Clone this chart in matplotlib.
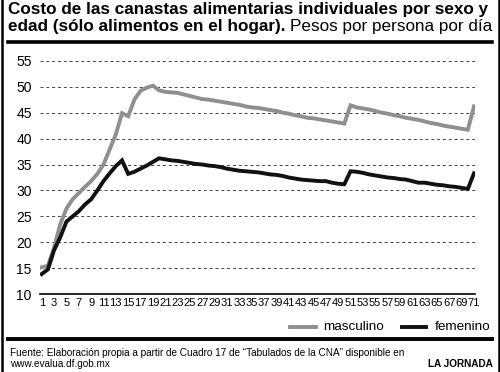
import numpy as np
import matplotlib
matplotlib.use("Agg")
import matplotlib.pyplot as plt
from matplotlib.lines import Line2D

plt.rcParams['font.family'] = ['Liberation Sans', 'DejaVu Sans']

# edades 1..71
edad = np.arange(1, 72)
masculino = [15.2, 15.5, 19.0, 23.5, 26.5, 28.3, 29.5, 30.7, 31.8, 33.2,
             35.0, 37.9, 40.8, 44.9, 44.3, 47.5, 49.2, 49.8, 50.2, 49.3,
             49.0, 48.9, 48.8, 48.5, 48.2, 47.9, 47.6, 47.5, 47.3, 47.1,
             46.9, 46.7, 46.5, 46.2, 46.0, 45.9, 45.7, 45.5, 45.3, 45.0,
             44.8, 44.5, 44.3, 44.0, 43.9, 43.7, 43.5, 43.3, 43.1, 42.9,
             46.4, 46.0, 45.8, 45.6, 45.3, 45.0, 44.8, 44.5, 44.3, 44.0,
             43.8, 43.6, 43.3, 43.0, 42.8, 42.5, 42.3, 42.1, 41.9, 41.7,
             46.2]
femenino = [13.9, 14.8, 18.5, 21.0, 24.0, 25.0, 26.0, 27.3, 28.3, 30.0,
            31.8, 33.3, 34.7, 35.8, 33.2, 33.6, 34.2, 34.8, 35.5, 36.2,
            36.0, 35.8, 35.7, 35.5, 35.3, 35.1, 35.0, 34.8, 34.7, 34.5,
            34.2, 34.0, 33.8, 33.7, 33.6, 33.5, 33.3, 33.1, 33.0, 32.8,
            32.5, 32.3, 32.1, 32.0, 31.9, 31.8, 31.8, 31.5, 31.3, 31.2,
            33.7, 33.6, 33.4, 33.1, 32.9, 32.7, 32.5, 32.4, 32.2, 32.1,
            31.8, 31.5, 31.5, 31.3, 31.1, 31.0, 30.8, 30.7, 30.5, 30.3,
            33.3]
xticks = list(range(1, 72, 2))
yticks = list(range(10, 60, 5))

W, H = 500, 372
fig = plt.figure(figsize=(5, 3.72), dpi=100)

def px(x, y):
    return x / W, 1 - y / H

# axes
l, b = px(40, 294.3)
r, t = px(475, 60.7)
ax = fig.add_axes([l, b, r - l, t - b])
ax.plot(edad, masculino, color='#8f8f8f', lw=2.8, solid_joinstyle='miter')
ax.plot(edad, femenino, color='#111111', lw=2.8, solid_joinstyle='miter')
ax.set_xlim(0.72, 71.16)
ax.set_ylim(10, 55)
ax.set_yticks(yticks)
ax.set_xticks(xticks)
ax.set_xticklabels([str(v) for v in xticks],
                   family=['Liberation Sans Narrow', 'Liberation Sans'], fontsize=8)
ax.tick_params(axis='y', length=0, pad=6, labelsize=10)
ax.tick_params(axis='x', length=0, pad=2.5)
for s in ['left', 'right', 'top']:
    ax.spines[s].set_visible(False)
ax.spines['bottom'].set_linewidth(1.2)
ax.yaxis.grid(True, linestyle=(0, (3, 3)), color='#444444', lw=0.7)
ax.set_axisbelow(True)

# title
fig.text(*px(8, 14), 'Costo de las canastas alimentarias individuales por sexo y',
         fontsize=12.3, fontweight='bold', va='baseline', ha='left')
t1 = fig.text(*px(8, 31.5), 'edad (sólo alimentos en el hogar).',
              fontsize=12.3, fontweight='bold', va='baseline', ha='left')
fig.canvas.draw()
bb = t1.get_window_extent()
fig.text((bb.x1 + 4) / W, 1 - 31.5 / H, 'Pesos por persona por día',
         fontsize=12.3, va='baseline', ha='left')

# rules
fig.add_artist(Line2D([8 / W, 492 / W], [1 - 42.3 / H] * 2, color='black', lw=2.6))
fig.add_artist(Line2D([8 / W, 492 / W], [1 - 338.7 / H] * 2, color='black', lw=2.8))
fig.add_artist(Line2D([1.5 / W] * 2, [0, 1], color='black', lw=1.8))
fig.add_artist(Line2D([498.5 / W] * 2, [0, 1], color='black', lw=1.8))

# legend
fig.add_artist(Line2D([290 / W, 316 / W], [1 - 326.7 / H] * 2, color='#8f8f8f', lw=2.8))
fig.text(*px(323, 329.5), 'masculino', fontsize=9.7, va='baseline', ha='left')
fig.add_artist(Line2D([402 / W, 426 / W], [1 - 326.7 / H] * 2, color='#111111', lw=2.8))
fig.text(*px(435, 329.5), 'femenino', fontsize=9.7, va='baseline', ha='left')

# footnote
fig.text(*px(10, 356.5),
         'Fuente: Elaboración propia a partir de Cuadro 17 de “Tabulados de la CNA” disponible en',
         fontsize=7.2, va='baseline', ha='left')
fig.text(*px(10, 367), 'www.evalua.df.gob.mx', fontsize=7.2, va='baseline', ha='left')
fig.text(*px(493, 367), 'LA JORNADA', fontsize=7.2, fontweight='bold',
         va='baseline', ha='right')

fig.savefig('out.png', dpi=100)
